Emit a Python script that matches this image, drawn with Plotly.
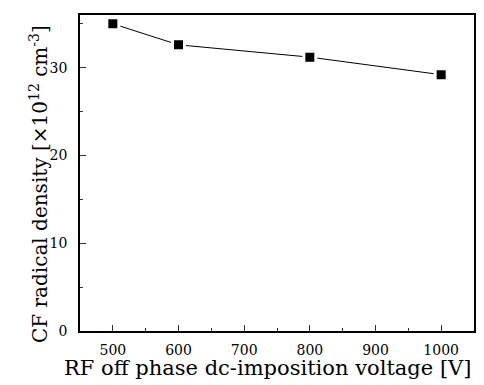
import plotly.graph_objects as go

voltage = [500, 600, 800, 1000]
density = [35.0, 32.6, 31.2, 29.2]
x_ticks = [500, 600, 700, 800, 900, 1000]
y_ticks = [0, 10, 20, 30]

FONT = "DejaVu Serif, Liberation Serif, serif"

W, H = 484, 385
L, R, T, B = 80, 10, 15, 54
PW, PH = W - L - R, H - T - B

fig = go.Figure()
fig.add_trace(go.Scatter(
    x=voltage, y=density, mode="lines+markers",
    line=dict(color="black", width=1),
    marker=dict(symbol="square", size=12, color="black",
                line=dict(color="white", width=3)),
    showlegend=False,
))

fig.update_layout(
    width=W, height=H,
    margin=dict(l=L, r=R, t=T, b=B, autoexpand=False),
    paper_bgcolor="white", plot_bgcolor="white",
    font=dict(family=FONT, color="black"),
)
fig.update_xaxes(
    range=[450, 1050], tickvals=x_ticks, ticktext=[str(v) for v in x_ticks],
    ticks="inside", ticklen=6, tickwidth=1, tickcolor="#333",
    minor=dict(tickvals=[550, 650, 750, 850, 950], ticks="inside", ticklen=3, tickcolor="#333"),
    showline=True, linecolor="black", linewidth=1.5, mirror=True,
    showgrid=False, zeroline=False,
    tickfont=dict(size=14, family=FONT), ticklabelstandoff=5,
)
fig.update_yaxes(
    range=[0, 36], tickvals=y_ticks, ticktext=[str(v) for v in y_ticks],
    ticks="inside", ticklen=6, tickwidth=1, tickcolor="#333",
    minor=dict(tickvals=[5, 15, 25, 35], ticks="inside", ticklen=3, tickcolor="#333"),
    showline=True, linecolor="black", linewidth=1.5, mirror=True,
    showgrid=False, zeroline=False,
    tickfont=dict(size=14, family=FONT), ticklabelstandoff=8,
)
fig.add_annotation(
    text="RF off phase dc-imposition voltage [V]",
    xref="paper", yref="paper", x=(267 - L) / PW, y=-(368 - (H - B)) / PH,
    showarrow=False, font=dict(size=21, family=FONT), xanchor="center", yanchor="middle",
)
fig.add_annotation(
    text="CF radical density [×10<sup>12</sup> cm<sup>-3</sup>]",
    xref="paper", yref="paper", x=-(L - 39) / PW, y=((H - B) - 184) / PH,
    showarrow=False, textangle=-90, font=dict(size=20, family=FONT),
    xanchor="center", yanchor="middle",
)
fig.write_html("out.html", config={"displayModeBar": False},
               post_script="document.body.style.margin='0';")
